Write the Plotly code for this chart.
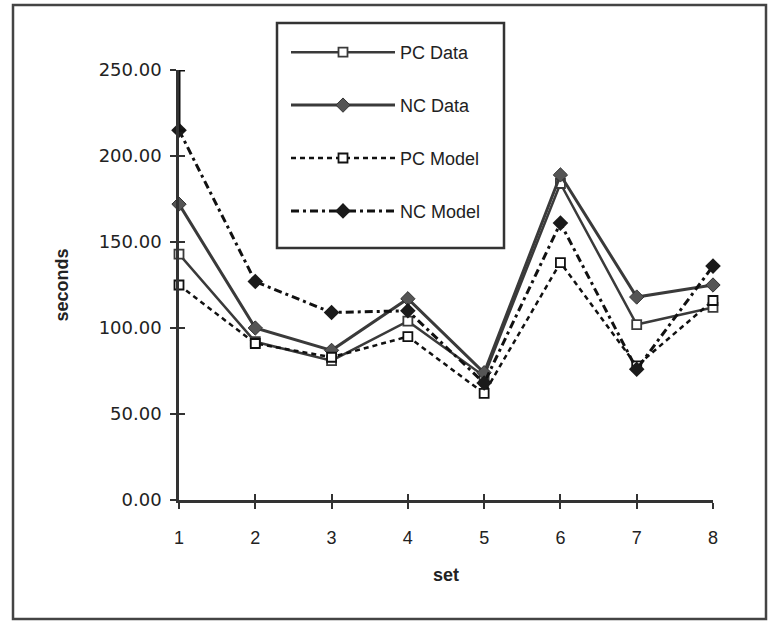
import plotly.graph_objects as go

sets = [1, 2, 3, 4, 5, 6, 7, 8]
pc_data = [143, 92, 81, 104, 72, 184, 102, 112]
nc_data = [172, 100, 87, 117, 74, 189, 118, 125]
pc_model = [125, 91, 83, 95, 62, 138, 78, 116]
nc_model = [215, 127, 109, 110, 68, 161, 76, 136]
err_x = [1]
err_y = [215]
err_plus = [35]
y_ticks = [0, 50, 100, 150, 200, 250]
y_tick_text = ["0.00", "50.00", "100.00", "150.00", "200.00", "250.00"]

fig = go.Figure()

fig.add_trace(go.Scatter(
    x=sets, y=pc_data, name="PC Data", mode="lines+markers",
    line=dict(color="#3a3a3a", width=2.5),
    marker=dict(symbol="square", size=9, color="white", line=dict(color="#3a3a3a", width=1.8)),
    cliponaxis=False, legendgroup="a"))
fig.add_trace(go.Scatter(
    x=sets, y=nc_data, name="NC Data", mode="lines+markers",
    line=dict(color="#3a3a3a", width=3),
    marker=dict(symbol="diamond", size=11, color="#555555", line=dict(color="#333333", width=1)),
    cliponaxis=False, legendgroup="b"))
fig.add_trace(go.Scatter(
    x=sets, y=pc_model, name="PC Model", mode="lines+markers",
    line=dict(color="#111111", width=2.5, dash="5px,4px"),
    marker=dict(symbol="square", size=9, color="white", line=dict(color="#111111", width=1.8)),
    cliponaxis=False, legendgroup="c"))
fig.add_trace(go.Scatter(
    x=sets, y=nc_model, name="NC Model", mode="lines+markers",
    line=dict(color="#111111", width=3, dash="8px,4px,3px,4px"),
    marker=dict(symbol="diamond", size=12, color="#1a1a1a"),
    cliponaxis=False, legendgroup="d"))
fig.add_trace(go.Scatter(
    x=err_x, y=err_y, mode="markers", marker=dict(size=1, opacity=0),
    error_y=dict(type="data", symmetric=False, array=err_plus, arrayminus=[0],
                 color="#111111", thickness=3, width=6),
    cliponaxis=False, showlegend=False, hoverinfo="skip"))
# helper trace for the inner half of the crossing ticks
fig.add_trace(go.Scatter(
    x=sets, y=pc_data, xaxis="x2", yaxis="y2", mode="lines",
    line=dict(width=0), opacity=0, showlegend=False, hoverinfo="skip"))

axis_col = "#333333"
L, R, T, B = 179, 713, 70, 500
W, H = R - L, B - T


def px(x):
    return (x - L) / W


def py(y):
    return (B - y) / H


fig.update_layout(
    width=770, height=623,
    margin=dict(l=L, r=770 - R, t=T, b=623 - B),
    paper_bgcolor="white", plot_bgcolor="white",
    showlegend=True,
    legend=dict(
        x=px(286), y=py(34), xanchor="left", yanchor="top",
        borderwidth=0, bgcolor="rgba(0,0,0,0)",
        font=dict(family="Liberation Sans", size=18, color="#222222"),
        itemwidth=104, tracegroupgap=26.5, traceorder="grouped",
    ),
    xaxis=dict(
        range=[1, 8], tickvals=sets, ticks="outside", ticklen=6, tickwidth=2,
        tickcolor=axis_col, showline=True, linecolor=axis_col, linewidth=2.5,
        showgrid=False, zeroline=False,
        tickfont=dict(family="Liberation Sans", size=18, color="#222222"),
        ticklabelstandoff=14,
        title=dict(text="<b>set</b>", font=dict(family="Liberation Sans", size=18, color="#222222"), standoff=22),
    ),
    yaxis=dict(
        range=[0, 250], tickvals=y_ticks, ticktext=y_tick_text, ticks="outside",
        ticklen=6, tickwidth=2, tickcolor=axis_col, showline=True,
        linecolor=axis_col, linewidth=2.5, showgrid=False, zeroline=False,
        tickfont=dict(family="DejaVu Sans", size=18, color="#222222"),
        ticklabelstandoff=5,
        title=dict(text="<b>seconds</b>", font=dict(family="Liberation Sans", size=18, color="#222222"), standoff=26),
    ),
    xaxis2=dict(range=[1, 8], tickvals=sets, ticks="inside", ticklen=6, tickwidth=2,
                tickcolor=axis_col, showticklabels=False, showline=False,
                showgrid=False, zeroline=False, overlaying="x", anchor="y"),
    yaxis2=dict(range=[0, 250], tickvals=y_ticks, ticks="inside", ticklen=6, tickwidth=2,
                tickcolor=axis_col, showticklabels=False, showline=False,
                showgrid=False, zeroline=False, overlaying="y", anchor="x"),
    shapes=[
        dict(type="rect", xref="paper", yref="paper",
             x0=px(13), x1=px(766), y0=py(619), y1=py(5),
             line=dict(color="#444444", width=2.5), fillcolor="rgba(0,0,0,0)", layer="below"),
        dict(type="rect", xref="paper", yref="paper",
             x0=px(277), x1=px(504), y0=py(248), y1=py(23),
             line=dict(color="#333333", width=2.5), fillcolor="white", layer="above"),
    ],
)

fig.write_html("out.html")
